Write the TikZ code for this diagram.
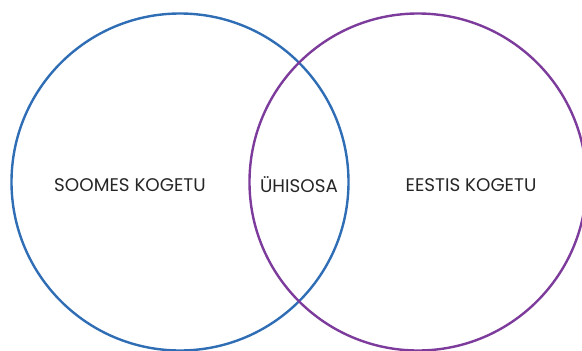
\documentclass[tikz,border=0pt]{standalone}
\usepackage{fontspec}
\setmainfont{Poppins}
\usepackage{tikz}
\definecolor{soomesblue}{HTML}{2F6DB5}
\definecolor{eestipurple}{HTML}{7D3C9C}
\tikzset{
  vennring/.style={draw, line width=2.4pt, circle, minimum size=337pt, inner sep=0pt},
  vennlabel/.style={font=\fontsize{18.3}{22}\selectfont, text=black!85}
}
\begin{document}
\begin{tikzpicture}[x=1pt,y=-1pt]
  \useasboundingbox (0,0) rectangle (582,351);

  \node[vennring, soomesblue] (soomes) at (180,182) {};
  \node[vennring, eestipurple] (eesti) at (418,182) {};

  \node[vennlabel] (soomeslbl) at (130,185) {SOOMES KOGETU};
  \node[vennlabel] (yhislbl) at (299,185) {ÜHISOSA};
  \node[vennlabel] (eestilbl) at (471,185) {EESTIS KOGETU};
\end{tikzpicture}
\end{document}
